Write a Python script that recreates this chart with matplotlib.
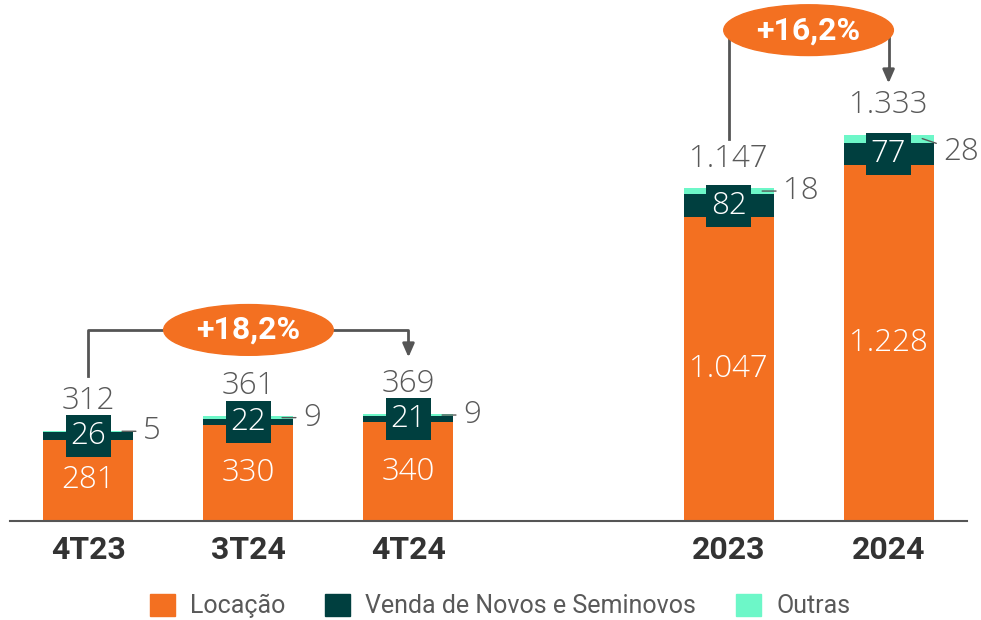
import numpy as np
import matplotlib.pyplot as plt
from matplotlib.patches import Ellipse, Patch

# data
categorias = ["4T23", "3T24", "4T24", "2023", "2024"]
locacao = [281, 330, 340, 1047, 1228]
venda = [26, 22, 21, 82, 77]
outras = [5, 9, 9, 18, 28]
totais = [312, 361, 369, 1147, 1333]
crescimento = ["+18,2%", "+16,2%"]

posicoes = [0, 1, 2, 4, 5]

LARANJA = "#F37021"
VERDE_ESC = "#003F3F"
VERDE_CLARO = "#6DF7C8"
CINZA = "#595959"

plt.rcParams['font.family'] = ['Roboto', 'DejaVu Sans']
NUM = dict(family=['Open Sans', 'DejaVu Sans'], fontweight="light", fontsize=22.5)


def fmt(v):
    return "{:,}".format(v).replace(",", ".")


fig = plt.figure(figsize=(9.81, 6.2), dpi=100)
ax = fig.add_axes([10 / 981, 99 / 620, 957 / 981, 521 / 620])

loc = np.array(locacao)
ven = np.array(venda)
out = np.array(outras)
w = 0.5625

ax.bar(posicoes, loc, w, color=LARANJA, label="Locação")
ax.bar(posicoes, ven, w, bottom=loc, color=VERDE_ESC, label="Venda de Novos e Seminovos")
ax.bar(posicoes, out, w, bottom=loc + ven, color=VERDE_CLARO, label="Outras")

ax.set_xlim(-0.49, 5.49)
ax.set_ylim(0, 1797)
for s in ["top", "left", "right"]:
    ax.spines[s].set_visible(False)
ax.spines["bottom"].set_color("#555555")
ax.spines["bottom"].set_linewidth(1.5)
ax.set_yticks([])
ax.set_xticks(posicoes)
ax.set_xticklabels(categorias, fontsize=23, fontweight="bold", color="#333333")
ax.tick_params(axis="x", length=0, pad=10)

# rotulos
for i, x in enumerate(posicoes):
    ax.text(x, loc[i] / 2, fmt(locacao[i]), ha="center", va="center",
            color="white", **NUM)
    ax.text(x, loc[i] + ven[i] / 2, fmt(venda[i]), ha="center", va="center",
            color="white", **NUM,
            bbox=dict(boxstyle="square,pad=0.16", fc=VERDE_ESC, ec="none"))
    topo = loc[i] + ven[i] + out[i]
    ax.annotate(fmt(totais[i]), (x, topo), xytext=(0, 10), textcoords="offset points",
                ha="center", va="bottom", color=CINZA, **NUM)
    # rotulo de outras com linha
    yo = loc[i] + ven[i] + out[i] / 2
    if i == 4:
        ax.annotate(fmt(outras[i]), (x + 0.21, yo), xytext=(x + 0.34, yo - 45),
                    ha="left", va="center", color=CINZA, **NUM,
                    arrowprops=dict(arrowstyle="-", color=CINZA, lw=1, shrinkA=3, shrinkB=0))
    else:
        ax.annotate(fmt(outras[i]), (x + 0.21, yo), xytext=(x + 0.34, yo),
                    ha="left", va="center", color=CINZA, **NUM,
                    arrowprops=dict(arrowstyle="-", color=CINZA, lw=1, shrinkA=3, shrinkB=0))

# colchetes de crescimento
def colchete(x0, x1, y0, ytopo, yfim, texto):
    ax.plot([x0, x0, x1, x1], [y0, ytopo, ytopo, yfim + 60], color="#555555", lw=2, zorder=3)
    ax.annotate("", (x1, yfim), xytext=(x1, yfim + 70),
                arrowprops=dict(arrowstyle="-|>,head_width=0.35,head_length=0.8",
                                color="#555555", lw=2), zorder=3)
    xm = (x0 + x1) / 2
    ax.add_patch(Ellipse((xm, ytopo), 1.06, 175, color=LARANJA, zorder=4))
    ax.text(xm, ytopo, texto, ha="center", va="center", color="white",
            fontsize=23, fontweight="bold", zorder=5)


colchete(posicoes[0], posicoes[2], 500, 659, 555, crescimento[0])
colchete(posicoes[3], posicoes[4], 1317, 1693, 1500, crescimento[1])

handles = [Patch(color=LARANJA), Patch(color=VERDE_ESC), Patch(color=VERDE_CLARO)]
fig.legend(handles, ["Locação", "Venda de Novos e Seminovos", "Outras"],
           loc="center", bbox_to_anchor=(0.51, 14 / 620), ncol=3, frameon=False,
           fontsize=18, handlelength=1.0, handleheight=1.0, columnspacing=1.6,
           handletextpad=0.6, labelcolor=CINZA)

fig.savefig("out.png", dpi=100)
